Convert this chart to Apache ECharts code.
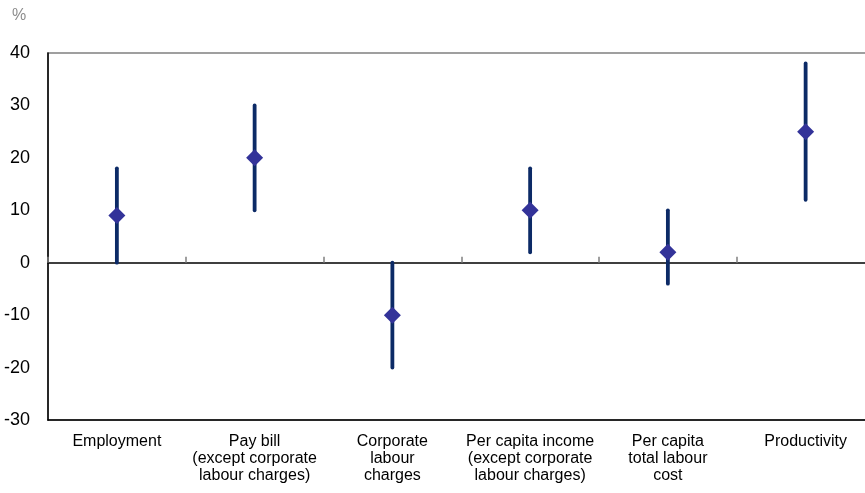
<!DOCTYPE html>
<html>
<head>
<meta charset="utf-8">
<script src="https://cdn.jsdelivr.net/npm/echarts@6/dist/echarts.min.js"></script>
<style>html,body{margin:0;padding:0;background:#fff}#c{width:865px;height:493px}</style>
</head>
<body>
<div id="c"></div>
<script>
const categories = [
  'Employment',
  'Pay bill\n(except corporate\nlabour charges)',
  'Corporate\nlabour\ncharges',
  'Per capita income\n(except corporate\nlabour charges)',
  'Per capita\ntotal labour\ncost',
  'Productivity'
];
const midValues = [9, 20, -10, 10, 2, 25];
const lowValues = [0, 10, -20, 2, -4, 12];
const highValues = [18, 30, 0, 18, 10, 38];
const yTicks = { min: -30, max: 40, interval: 10 };

const rangeData = categories.map((c, i) => [i, lowValues[i], highValues[i]]);

const chart = echarts.init(document.getElementById('c'));
chart.setOption({
  animation: false,
  textStyle: { fontFamily: 'Liberation Sans, Arial, sans-serif' },
  graphic: [{
    type: 'text', left: 12, top: 8,
    style: { text: '%', fill: '#8c8c8c', font: '16px Liberation Sans, Arial, sans-serif' }
  }],
  grid: { left: 48, top: 53, height: 367, width: 826.5, show: true, borderColor: '#808080', borderWidth: 1.5, containLabel: false, outerBoundsMode: 'none' },
  xAxis: [{
    type: 'category', data: categories, position: 'bottom',
    axisLine: { onZero: false, lineStyle: { color: '#000', width: 1.5 } },
    axisTick: { show: false },
    axisLabel: { interval: 0, color: '#000', fontSize: 16, lineHeight: 17, margin: 13 },
    splitLine: { show: false }
  }, {
    type: 'category', data: categories, position: 'top',
    axisLine: { onZero: true, lineStyle: { color: '#000', width: 1.5 } },
    axisTick: { show: true, inside: false, length: 6, lineStyle: { color: '#808080', width: 1.5 } },
    axisLabel: { show: false },
    splitLine: { show: false }
  }],
  yAxis: {
    type: 'value', min: yTicks.min, max: yTicks.max, interval: yTicks.interval,
    axisLine: { show: true, lineStyle: { color: '#000', width: 1.5 } },
    axisTick: { show: false },
    splitLine: { show: false },
    axisLabel: { color: '#000', fontSize: 18, margin: 18 }
  },
  series: [{
    type: 'custom',
    xAxisIndex: 0,
    data: rangeData,
    encode: { x: 0, y: [1, 2] },
    renderItem: function (params, api) {
      const x = api.value(0);
      const lo = api.coord([x, api.value(1)]);
      const hi = api.coord([x, api.value(2)]);
      return {
        type: 'line',
        shape: { x1: lo[0], y1: lo[1], x2: hi[0], y2: hi[1] },
        style: { stroke: '#0c2a66', lineWidth: 3.8, lineCap: 'round' }
      };
    },
    z: 2
  }, {
    type: 'scatter',
    xAxisIndex: 0,
    data: midValues,
    symbol: 'diamond',
    symbolSize: [17, 17],
    itemStyle: { color: '#333399', opacity: 1 },
    z: 3
  }]
});
</script>
</body>
</html>
